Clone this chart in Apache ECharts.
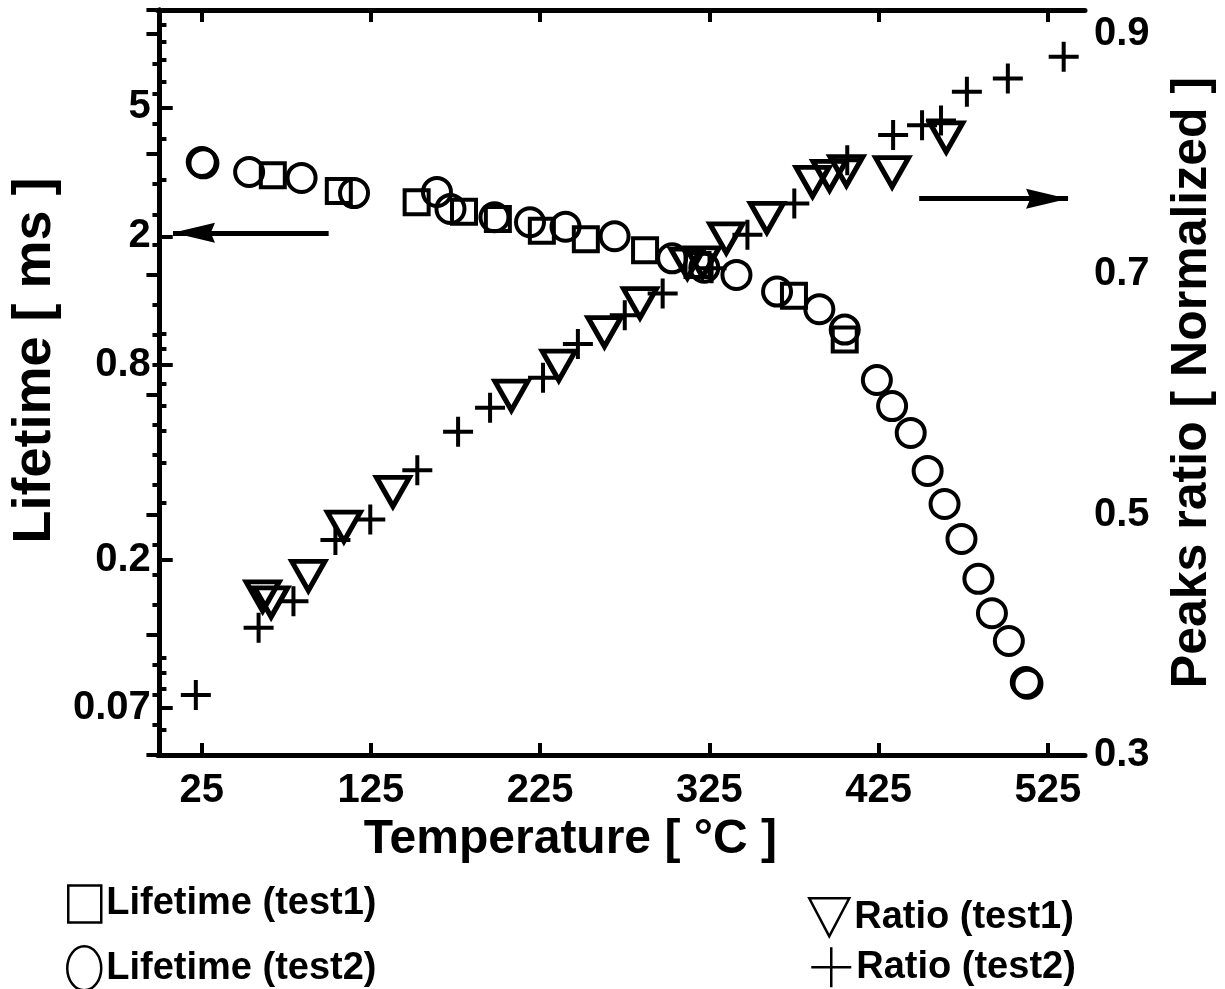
<!DOCTYPE html>
<html>
<head>
<meta charset="utf-8">
<script src="https://cdn.jsdelivr.net/npm/echarts@6/dist/echarts.min.js"></script>
<style>
html,body{margin:0;padding:0;background:#fff;}
#chart{width:1225px;height:989px;}
</style>
</head>
<body>
<div id="chart"></div>
<script>
// ---- data ----
const lifeT1Temp = [67, 106, 152, 180, 200, 226, 252, 287, 318, 375, 405];
const lifeT1Val  = [3.09, 2.76, 2.55, 2.38, 2.26, 2.08, 1.96, 1.81, 1.63, 1.31, 0.96];

const lifeT2Temp = [25, 26, 53, 84, 115, 164, 172, 198, 219, 240, 269, 303, 322, 341, 365, 390, 405, 424, 433, 444, 454, 464, 474, 484, 492, 502, 512, 513];
const lifeT2Val  = [3.39, 3.36, 3.16, 3.03, 2.72, 2.74, 2.43, 2.29, 2.21, 2.14, 2.00, 1.71, 1.60, 1.52, 1.35, 1.19, 1.03, 0.72, 0.598, 0.494, 0.377, 0.298, 0.2325, 0.175, 0.137, 0.1125, 0.084, 0.083];

const ratioT1Temp = [61, 66, 88, 109, 138, 208, 236, 263, 284, 312, 321, 335, 359, 386, 396, 406, 433, 465];
const ratioT1Val  = [0.432, 0.427, 0.449, 0.490, 0.519, 0.599, 0.624, 0.652, 0.676, 0.709, 0.710, 0.730, 0.747, 0.777, 0.782, 0.786, 0.785, 0.814];

const ratioT2Temp = [21.5, 58.6, 79.2, 104, 124.6, 152.4, 176.5, 195.4, 226.7, 247.3, 275, 297.4, 326.3, 347.5, 375.2, 406.5, 433.6, 450.7, 461.9, 477.2, 501.4, 534.4];
const ratioT2Val  = [0.350, 0.406, 0.428, 0.479, 0.496, 0.537, 0.569, 0.589, 0.614, 0.642, 0.666, 0.684, 0.705, 0.733, 0.759, 0.795, 0.816, 0.824, 0.828, 0.852, 0.863, 0.881];

const xTickValues = [25, 125, 225, 325, 425, 525];
const lifeLabelValues = [5, 2, 0.8, 0.2, 0.07];
const lifeMinorTicks = [0.06, 0.08, 0.09, 0.1, 0.3, 0.4, 0.5, 0.6, 0.7, 0.9, 1, 3, 4, 6, 7, 8, 9];
const ratioLabelValues = [0.3, 0.5, 0.7, 0.9];

// annotation arrows: [tail, tip] in data coordinates
const arrowLeft  = [[100, 2.05], [8, 2.05]];
const arrowRight = [[449, 0.763], [537, 0.763]];

// ---- helpers ----
const zip = (a, b) => a.map((v, i) => [v, b[i]]);
const FONT = "'Liberation Sans', Arial, Helvetica, sans-serif";
const BLACK = '#000';
const PLUS = 'path://M10,0 L10,20 M0,10 L20,10';
const ELLIPSE = 'path://M0,22 A17,22 0 1 1 34,22 A17,22 0 1 1 0,22 Z';
const TRI_DOWN = 'path://M0,0 L40,0 L20,38 Z';
const HEAD_LEFT = 'path://M0,10 L40,0 L36,10 L40,20 Z';
const HEAD_RIGHT = 'path://M40,10 L0,0 L4,10 L0,20 Z';

const chart = echarts.init(document.getElementById('chart'), null, {renderer: 'canvas'});

const openStyle = (w) => ({color: 'rgba(0,0,0,0)', borderColor: BLACK, borderWidth: w, opacity: 1});
const legendText = {fontSize: 38, fontWeight: 'bold', color: BLACK, fontFamily: FONT, lineHeight: 40};
const oneLegend = (name, icon, left, top, w, h) => ({
  orient: 'horizontal', left: left, top: top, itemWidth: w, itemHeight: h, padding: 0,
  textStyle: legendText, selectedMode: false,
  data: [{name: name, icon: icon, itemStyle: openStyle(2.5)}]
});
const arrowSeries = (name, yIndex, pts, head, dir) => ({
  name: name, type: 'scatter', xAxisIndex: 0, yAxisIndex: yIndex, silent: true,
  data: [pts[1]],
  symbol: head, symbolSize: [42, 20], symbolOffset: [dir * 21, 0],
  itemStyle: {color: BLACK, opacity: 1},
  markLine: {
    silent: true, symbol: ['none', 'none'],
    label: {show: false},
    lineStyle: {color: BLACK, width: 5, type: 'solid', opacity: 1},
    data: [[{coord: pts[0]}, {coord: pts[1]}]]
  }
});

const option = {
  backgroundColor: '#fff',
  animation: false,
  textStyle: {fontFamily: FONT, color: BLACK},
  grid: {left: 157, right: 139, top: 10, bottom: 234, containLabel: false},
  xAxis: [
    {
      type: 'value', position: 'bottom', min: -1, max: 547,
      axisLine: {show: true, lineStyle: {color: BLACK, width: 5}},
      axisTick: {show: true, inside: true, length: 12, customValues: xTickValues, lineStyle: {color: BLACK, width: 4}},
      axisLabel: {show: true, customValues: xTickValues, margin: 16, fontSize: 40, fontWeight: 'bold', color: BLACK, fontFamily: FONT},
      splitLine: {show: false},
      name: 'Temperature [ °C ]', nameLocation: 'middle', nameGap: 56,
      nameTextStyle: {fontSize: 48, fontWeight: 'bold', color: BLACK, fontFamily: FONT, padding: [0, 102, 0, 0]}
    },
    {
      type: 'value', position: 'top', min: -1, max: 547,
      axisLine: {show: true, lineStyle: {color: BLACK, width: 5}},
      axisTick: {show: true, inside: true, length: 12, customValues: xTickValues, lineStyle: {color: BLACK, width: 4}},
      axisLabel: {show: false},
      splitLine: {show: false}
    }
  ],
  yAxis: [
    {
      type: 'log', position: 'left', min: 0.05, max: 10, logBase: 10,
      axisLine: {show: true, lineStyle: {color: BLACK, width: 5}},
      axisTick: {show: true, inside: true, length: 7, customValues: lifeMinorTicks, lineStyle: {color: BLACK, width: 4}},
      axisLabel: {show: true, customValues: lifeLabelValues, margin: 7, fontSize: 40, fontWeight: 'bold', color: BLACK, fontFamily: FONT,
        formatter: (v) => String(+(+v).toPrecision(3))},
      splitLine: {show: false},
      name: 'Lifetime [ ms ]', nameLocation: 'middle', nameGap: 62, nameRotate: 90,
      nameTextStyle: {fontSize: 54, fontWeight: 'bold', color: BLACK, fontFamily: FONT, padding: [0, 0, 0, 44]}
    },
    {
      type: 'value', position: 'right', min: 0.3, max: 0.92, interval: 0.1,
      axisLine: {show: true, lineStyle: {color: BLACK, width: 5}},
      axisTick: {show: true, inside: true, length: 13, lineStyle: {color: BLACK, width: 4}},
      minorTick: {show: true, splitNumber: 4, length: 7, lineStyle: {color: BLACK, width: 4}},
      axisLabel: {show: true, customValues: ratioLabelValues, margin: 9, fontSize: 40, fontWeight: 'bold', color: BLACK, fontFamily: FONT,
        formatter: (v) => (+v).toFixed(1)},
      splitLine: {show: false},
      name: 'Peaks ratio [ Normalized ]', nameLocation: 'middle', nameGap: 82, nameRotate: 90,
      nameTextStyle: {fontSize: 50, fontWeight: 'bold', color: BLACK, fontFamily: FONT}
    },
    {
      type: 'log', position: 'left', min: 0.05, max: 10, logBase: 10,
      axisLine: {show: false},
      axisTick: {show: true, inside: true, length: 15, customValues: lifeLabelValues, lineStyle: {color: BLACK, width: 4}},
      axisLabel: {show: false},
      splitLine: {show: false}
    }
  ],
  legend: [
    oneLegend('Lifetime (test1)', 'rect', 67, 884, 33, 37),
    oneLegend('Lifetime (test2)', ELLIPSE, 66, 945, 34, 44),
    oneLegend('Ratio (test1)', TRI_DOWN, 808, 897, 40, 38),
    oneLegend('Ratio (test2)', PLUS, 810, 946, 40, 44)
  ],
  series: [
    {
      name: 'Lifetime (test1)', type: 'scatter', xAxisIndex: 0, yAxisIndex: 0,
      symbol: 'rect', symbolSize: 24, itemStyle: openStyle(4),
      data: zip(lifeT1Temp, lifeT1Val), silent: true
    },
    {
      name: 'Lifetime (test2)', type: 'scatter', xAxisIndex: 0, yAxisIndex: 0,
      symbol: 'circle', symbolSize: 28, itemStyle: openStyle(4),
      data: zip(lifeT2Temp, lifeT2Val), silent: true
    },
    {
      name: 'Ratio (test1)', type: 'scatter', xAxisIndex: 0, yAxisIndex: 1,
      symbol: 'triangle', symbolRotate: 180, symbolSize: [33, 29], itemStyle: openStyle(5),
      data: zip(ratioT1Temp, ratioT1Val), silent: true
    },
    {
      name: 'Ratio (test2)', type: 'scatter', xAxisIndex: 0, yAxisIndex: 1,
      symbol: PLUS, symbolSize: 30, itemStyle: openStyle(4),
      data: zip(ratioT2Temp, ratioT2Val), silent: true
    },
    arrowSeries('arrow-lifetime', 0, arrowLeft, HEAD_LEFT, 1),
    arrowSeries('arrow-ratio', 1, arrowRight, HEAD_RIGHT, -1)
  ]
};
chart.setOption(option);
</script>
</body>
</html>
